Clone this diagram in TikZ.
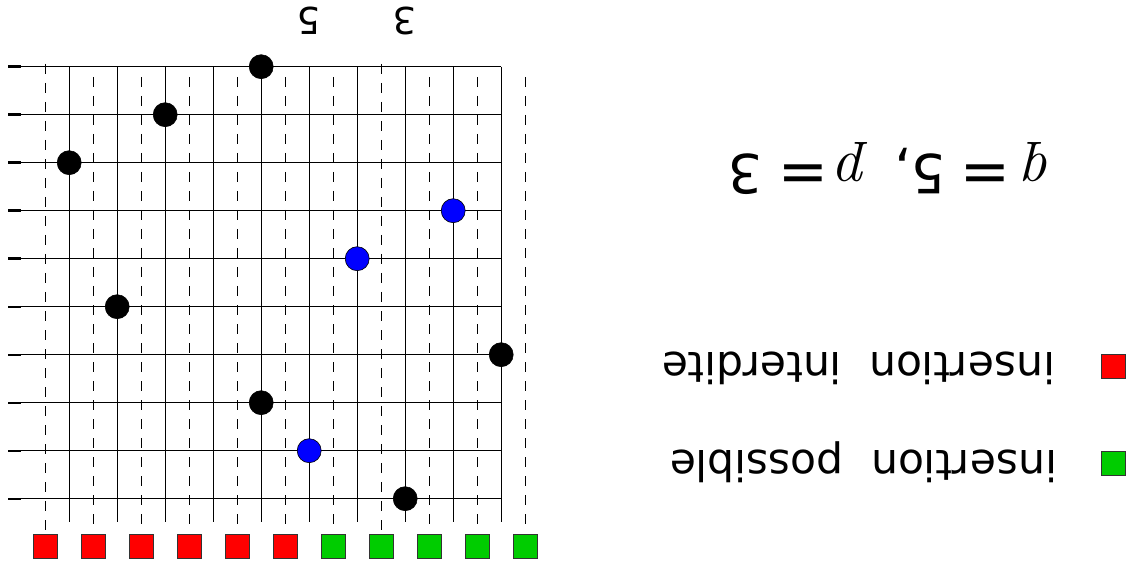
\documentclass[tikz,border=0pt]{standalone}
\usepackage{fontspec}
\newfontfamily\dvs{DejaVu Sans}
\definecolor{ired}{RGB}{255,0,0}
\definecolor{igreen}{RGB}{0,204,0}
\definecolor{iblue}{RGB}{0,0,255}
\newcommand{\fq}[1]{{\fontsize{62}{66}\selectfont\itshape #1}}
\newcommand{\fd}[1]{{\dvs\fontsize{54}{60}\selectfont #1}}
\newcommand{\fe}{{\dvs\fontsize{60}{64}\selectfont =}}
\begin{document}
\begin{tikzpicture}[x=1pt,y=-1pt,
 gridline/.style={line width=1.1pt},
 tickmark/.style={line width=2.4pt},
 dashline/.style={line width=1.1pt, dash pattern=on 10pt off 9pt},
 dot/.style={circle, draw=black, line width=0.6pt, fill=black, minimum size=24pt, inner sep=0pt},
 bdot/.style={dot, fill=iblue},
 sqbox/.style={rectangle, draw=black!80, line width=0.7pt, minimum size=24pt, inner sep=0pt},
 flip/.style={rotate=180, inner sep=0pt, outer sep=0pt},
]
\useasboundingbox (0,0) rectangle (1132,569);
% horizontal lines with left ticks
\foreach \j in {0,...,9}{
  \draw[gridline] (8,66.7+48*\j) -- (501.2,66.7+48*\j);
  \draw[tickmark] (8,66.7+48*\j) -- (21,66.7+48*\j);
}
% solid verticals
\foreach \k in {0,...,9}{
  \draw[gridline] (69.2+48*\k,66.7) -- (69.2+48*\k,522);
}
% dashed verticals
\foreach \k in {1,2,3,4,5,6,8,9,10}{
  \draw[dashline] (45.2+48*\k,77) -- (45.2+48*\k,527);
}
\foreach \k in {0,7}{
  \draw[dashline] (45.2+48*\k,64) -- (45.2+48*\k,534);
}
% dots
\node[dot]  (d0) at (69.2+48*4,66.7+48*0) {};
\node[dot]  (d1) at (69.2+48*2,66.7+48*1) {};
\node[dot]  (d2) at (69.2+48*0,66.7+48*2) {};
\node[bdot] (d3) at (69.2+48*8,66.7+48*3) {};
\node[bdot] (d4) at (69.2+48*6,66.7+48*4) {};
\node[dot]  (d5) at (69.2+48*1,66.7+48*5) {};
\node[dot]  (d6) at (69.2+48*9,66.7+48*6) {};
\node[dot]  (d7) at (69.2+48*4,66.7+48*7) {};
\node[bdot] (d8) at (69.2+48*5,66.7+48*8) {};
\node[dot]  (d9) at (69.2+48*7,66.7+48*9) {};
% bottom squares
\foreach \k in {0,...,5}{
  \node[sqbox, fill=ired] (s\k) at (45.2+48*\k,546.5) {};
}
\foreach \k in {6,...,10}{
  \node[sqbox, fill=igreen] (s\k) at (45.2+48*\k,546.5) {};
}
% top labels
\node[flip, anchor=base, font=\dvs\fontsize{37}{40}\selectfont] (l5) at (308.5,7.5) {5};
\node[flip, anchor=base, font=\dvs\fontsize{37}{40}\selectfont] (l3) at (405,7.5) {3};
% formula
\node[flip, anchor=base west] (f) at (1053,155)
  {\fq{q}\hspace{15pt}\fe\hspace{14pt}\fd{5,}\hspace{26pt}\fq{p}\hspace{9pt}\fe\hspace{16pt}\fd{3}};
% legend
\node[sqbox, fill=ired]   (lr) at (1113,366) {};
\node[sqbox, fill=igreen] (lg) at (1113,463) {};
\node[flip, anchor=base west, font=\dvs\fontsize{42.5}{46}\selectfont] (tr) at (1055,352) {insertion\hspace{0.64em}interdite};
\node[flip, anchor=base west, font=\dvs\fontsize{42.5}{46}\selectfont] (tg) at (1057,450) {insertion\hspace{0.64em}possible};
\end{tikzpicture}
\end{document}
